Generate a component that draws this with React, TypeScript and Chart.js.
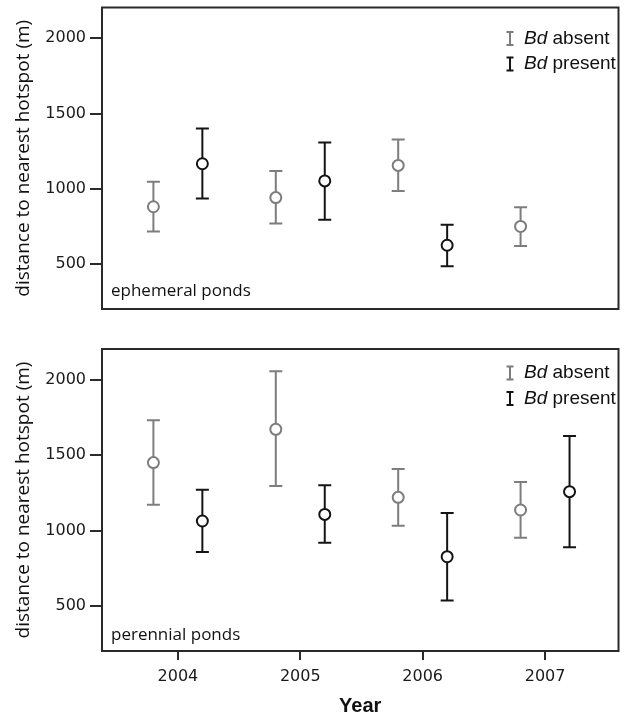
import React, { useEffect, useRef } from "react";
import { Chart, registerables } from "chart.js";

Chart.register(...registerables);

// ---------- data ----------
const years = [2004, 2005, 2006, 2007];
const yearLabels = ["2004", "2005", "2006", "2007"];
const yTickValues = [500, 1000, 1500, 2000];

const ephemeralAbsentMean = [880, 941, 1155, 749];
const ephemeralAbsentLow = [716, 769, 985, 619];
const ephemeralAbsentHigh = [1047, 1118, 1327, 877];

const ephemeralPresentMean = [1166, 1052, 624, null];
const ephemeralPresentLow = [935, 794, 485, null];
const ephemeralPresentHigh = [1400, 1307, 760, null];

const perennialAbsentMean = [1451, 1672, 1220, 1136];
const perennialAbsentLow = [1171, 1295, 1032, 952];
const perennialAbsentHigh = [1732, 2058, 1408, 1322];

const perennialPresentMean = [1063, 1107, 826, 1258];
const perennialPresentLow = [857, 919, 535, 888];
const perennialPresentHigh = [1271, 1300, 1116, 1628];

const legendLabels = ["absent", "present"];
const yTitle = "distance to nearest hotspot (m)";
const xTitle = "Year";

// ---------- styles ----------
const GRAY = "#7d7d7d";
const BLACK = "#141414";
const AXIS = "#2a2a2a";
const SHIFT = 0.2;

type Pt = { x: number; y: number; lo: number; hi: number };

function makePoints(
  means: (number | null)[],
  lows: (number | null)[],
  highs: (number | null)[],
  shift: number
): Pt[] {
  const out: Pt[] = [];
  years.forEach((yr, i) => {
    const m = means[i];
    if (m == null) return;
    out.push({ x: yr + shift, y: m, lo: lows[i] as number, hi: highs[i] as number });
  });
  return out;
}

const errorBarPlugin = {
  id: "errorBars",
  beforeDatasetsDraw(chart: any) {
    const ctx = chart.ctx;
    const xs = chart.scales.x;
    const ys = chart.scales.y;
    chart.data.datasets.forEach((ds: any) => {
      ctx.save();
      ctx.strokeStyle = ds.borderColor;
      ctx.lineWidth = 2;
      (ds.data as Pt[]).forEach((p) => {
        const px = xs.getPixelForValue(p.x);
        const pl = ys.getPixelForValue(p.lo);
        const ph = ys.getPixelForValue(p.hi);
        const cap = 6.5;
        ctx.beginPath();
        ctx.moveTo(px, pl);
        ctx.lineTo(px, ph);
        ctx.moveTo(px - cap, pl);
        ctx.lineTo(px + cap, pl);
        ctx.moveTo(px - cap, ph);
        ctx.lineTo(px + cap, ph);
        ctx.stroke();
      });
      ctx.restore();
    });
  },
};

const decorPlugin = {
  id: "decor",
  afterDraw(chart: any, _args: any, opts: any) {
    const ctx = chart.ctx;
    const ca = chart.chartArea;
    ctx.save();
    // box
    ctx.strokeStyle = AXIS;
    ctx.lineWidth = 2;
    ctx.strokeRect(ca.left, ca.top, ca.right - ca.left, ca.bottom - ca.top);

    // panel label
    ctx.fillStyle = "#111";
    ctx.font = "17px 'Open Sans'";
    ctx.textBaseline = "middle";
    ctx.textAlign = "left";
    ctx.fillText(opts.panelLabel, ca.left + 9, ca.bottom - opts.labelOffset);

    // legend
    const rows = [
      { color: GRAY, text: legendLabels[0], dy: opts.legendTop },
      { color: BLACK, text: legendLabels[1], dy: opts.legendTop + 25.5 },
    ];
    rows.forEach((r) => {
      const cy = ca.top + r.dy;
      const sx = 510;
      ctx.strokeStyle = r.color;
      ctx.lineWidth = 2;
      ctx.beginPath();
      ctx.moveTo(sx, cy - 6.5);
      ctx.lineTo(sx, cy + 6.5);
      ctx.moveTo(sx - 3.5, cy - 6.5);
      ctx.lineTo(sx + 3.5, cy - 6.5);
      ctx.moveTo(sx - 3.5, cy + 6.5);
      ctx.lineTo(sx + 3.5, cy + 6.5);
      ctx.stroke();
      ctx.fillStyle = "#111";
      ctx.textBaseline = "middle";
      ctx.font = "italic 19px 'Liberation Sans', Arial, sans-serif";
      const tx = 524;
      ctx.fillText("Bd", tx, cy);
      const w = ctx.measureText("Bd ").width;
      ctx.font = "19px 'Liberation Sans', Arial, sans-serif";
      ctx.fillText(r.text, tx + w, cy);
    });
    ctx.restore();
  },
};

function buildConfig(
  absent: Pt[],
  present: Pt[],
  showX: boolean,
  padTop: number,
  padBottom: number,
  panelLabel: string,
  labelOffset: number,
  legendTop: number
): any {
  return {
    type: "scatter",
    data: {
      datasets: [
        {
          data: absent,
          borderColor: GRAY,
          backgroundColor: "#ffffff",
          pointRadius: 5.5,
          pointBorderWidth: 2,
          pointStyle: "circle",
        },
        {
          data: present,
          borderColor: BLACK,
          backgroundColor: "#ffffff",
          pointRadius: 5.5,
          pointBorderWidth: 2,
          pointStyle: "circle",
        },
      ],
    },
    options: {
      animation: false,
      responsive: false,
      maintainAspectRatio: false,
      layout: { padding: { top: padTop, right: 5, bottom: padBottom, left: 0 } },
      plugins: {
        legend: { display: false },
        tooltip: { enabled: false },
        decor: { panelLabel, labelOffset, legendTop },
      },
      scales: {
        x: {
          type: "linear",
          display: showX,
          min: 2003.38,
          max: 2007.6,
          afterBuildTicks: (s: any) => {
            s.ticks = years.map((v) => ({ value: v }));
          },
          afterFit: (s: any) => {
            if (showX) s.height = 64;
            s.paddingLeft = 0;
            s.paddingRight = 0;
          },
          ticks: {
            callback: (_v: any, i: number) => yearLabels[i],
            font: { family: "'DejaVu Sans'", size: 16 },
            color: "#1a1a1a",
            padding: 7,
            maxRotation: 0,
          },
          grid: {
            drawOnChartArea: false,
            drawTicks: true,
            tickLength: 9,
            color: AXIS,
            lineWidth: 2,
          },
          border: { display: false },
          title: {
            display: showX,
            text: xTitle,
            font: { family: "'Liberation Sans', Arial", size: 20, weight: "bold" },
            color: "#111",
            padding: { top: 0, bottom: -3 },
          },
        },
        y: {
          type: "linear",
          min: 200,
          max: 2205,
          afterBuildTicks: (s: any) => {
            s.ticks = yTickValues.map((v) => ({ value: v }));
          },
          afterFit: (s: any) => {
            s.width = 102;
            s.paddingTop = 0;
            s.paddingBottom = 0;
          },
          ticks: {
            callback: (v: any) => String(v),
            font: { family: "'DejaVu Sans'", size: 16 },
            color: "#1a1a1a",
            padding: 4,
          },
          grid: {
            drawOnChartArea: false,
            drawTicks: true,
            tickLength: 12,
            color: AXIS,
            lineWidth: 2,
          },
          border: { display: false },
          title: {
            display: true,
            text: yTitle,
            font: { family: "'Open Sans'", size: 19 },
            color: "#111",
            padding: { top: 12, bottom: 0 },
          },
        },
      },
    },
    plugins: [errorBarPlugin, decorPlugin],
  };
}

function Panel(props: { top: number; height: number; config: any }) {
  const ref = useRef<HTMLCanvasElement | null>(null);
  useEffect(() => {
    if (!ref.current) return;
    const chart = new Chart(ref.current, props.config);
    return () => chart.destroy();
  }, []);
  return (
    <canvas
      ref={ref}
      width={626}
      height={props.height}
      style={{
        position: "absolute",
        left: 0,
        top: props.top,
        width: 626,
        height: props.height,
      }}
    />
  );
}

export default function App() {
  const topCfg = buildConfig(
    makePoints(ephemeralAbsentMean, ephemeralAbsentLow, ephemeralAbsentHigh, -SHIFT),
    makePoints(ephemeralPresentMean, ephemeralPresentLow, ephemeralPresentHigh, SHIFT),
    false,
    7,
    11,
    "ephemeral ponds",
    18,
    31
  );
  const botCfg = buildConfig(
    makePoints(perennialAbsentMean, perennialAbsentLow, perennialAbsentHigh, -SHIFT),
    makePoints(perennialPresentMean, perennialPresentLow, perennialPresentHigh, SHIFT),
    true,
    29,
    0,
    "perennial ponds",
    16,
    24
  );
  return (
    <div style={{ position: "absolute", left: 0, top: 0, width: 626, height: 715, background: "#fff" }}>
      <Panel top={0} height={320} config={topCfg} />
      <Panel top={320} height={395} config={botCfg} />
    </div>
  );
}
